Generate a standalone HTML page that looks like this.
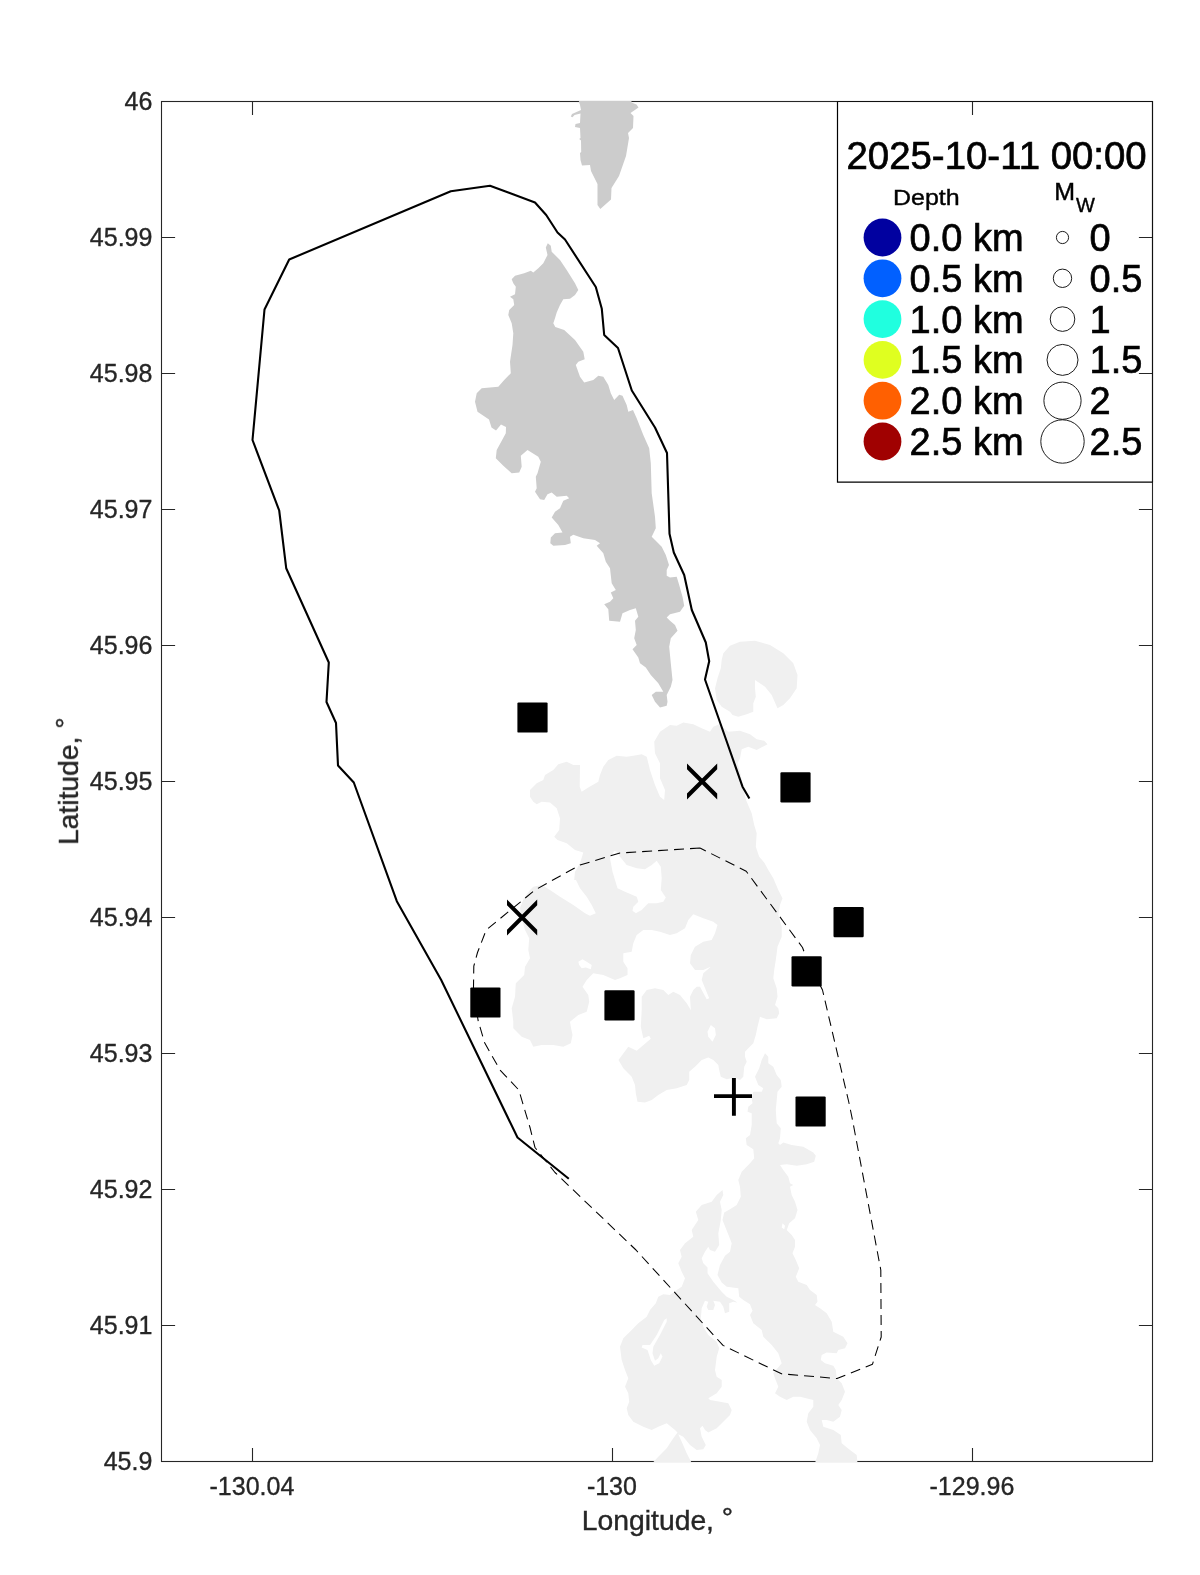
<!DOCTYPE html>
<html><head><meta charset="utf-8"><title>Axial Seamount map</title>
<style>
html,body{margin:0;padding:0;background:#fff;}
body{width:1200px;height:1575px;overflow:hidden;position:relative;font-family:"Liberation Sans",sans-serif;}
svg{position:absolute;left:0;top:0;display:block;}
text{font-family:"Liberation Sans",sans-serif;}
</style></head><body>
<svg width="1200" height="1575" viewBox="0 0 1200 1575">
<rect x="0" y="0" width="1200" height="1575" fill="#ffffff"/>
<defs><clipPath id="axclip"><rect x="161" y="101" width="992" height="1361"/></clipPath></defs>

<g stroke="#262626" stroke-width="1.1" fill="none" shape-rendering="auto">
<rect x="161.5" y="101.5" width="991.0" height="1360.0"/>
<path d="M252.5,1461.5 V1447.9 M252.5,101.5 V115.1"/>
<path d="M612.5,1461.5 V1447.9 M612.5,101.5 V115.1"/>
<path d="M972.5,1461.5 V1447.9 M972.5,101.5 V115.1"/>
<path d="M161.5,237.5 H175.1 M1152.5,237.5 H1138.9"/>
<path d="M161.5,373.5 H175.1 M1152.5,373.5 H1138.9"/>
<path d="M161.5,509.5 H175.1 M1152.5,509.5 H1138.9"/>
<path d="M161.5,645.5 H175.1 M1152.5,645.5 H1138.9"/>
<path d="M161.5,781.5 H175.1 M1152.5,781.5 H1138.9"/>
<path d="M161.5,917.5 H175.1 M1152.5,917.5 H1138.9"/>
<path d="M161.5,1053.5 H175.1 M1152.5,1053.5 H1138.9"/>
<path d="M161.5,1189.5 H175.1 M1152.5,1189.5 H1138.9"/>
<path d="M161.5,1325.5 H175.1 M1152.5,1325.5 H1138.9"/>
</g>
<g clip-path="url(#axclip)">
<path d="M578.5,100.0 L580.0,105.0 L581.0,110.0 L572.0,114.0 L570.8,116.5 L572.5,117.2 L574.5,115.0 L580.5,113.5 L580.0,123.0 L575.5,124.0 L575.0,127.0 L580.0,128.0 L580.5,138.0 L579.2,139.0 L581.0,140.5 L581.2,152.0 L580.0,153.0 L580.5,160.0 L582.0,165.5 L590.0,165.0 L591.0,171.0 L597.5,184.0 L597.5,205.0 L600.3,209.0 L611.0,199.5 L611.5,188.0 L619.0,176.0 L626.0,156.0 L629.0,138.0 L628.0,133.0 L633.0,128.0 L633.5,116.0 L630.5,113.0 L638.5,107.5 L636.5,104.5 L631.5,102.5 L631.5,100.0 Z" fill="#cccccc"/>
<path d="M547.8,243.3 L545.8,247.5 L547.5,255.0 L543.3,263.3 L538.3,268.3 L533.3,272.5 L530.8,270.8 L524.2,273.3 L515.0,275.8 L511.7,279.2 L513.3,283.3 L515.8,286.7 L515.0,294.2 L510.0,296.7 L513.3,299.2 L514.2,305.0 L509.2,310.0 L508.3,315.0 L511.7,323.3 L513.3,333.3 L512.5,345.0 L510.0,361.7 L510.8,373.3 L504.2,380.0 L498.3,386.7 L481.7,388.3 L476.7,393.3 L475.0,401.7 L477.5,411.7 L489.0,419.5 L491.5,427.5 L496.0,430.5 L501.0,424.5 L506.0,427.0 L505.8,433.3 L500.8,442.5 L496.7,450.0 L495.8,458.3 L503.3,465.8 L511.7,473.3 L519.2,472.5 L521.7,466.7 L520.8,455.8 L527.5,450.0 L538.3,456.7 L540.8,461.7 L537.5,473.3 L535.8,476.7 L536.7,488.3 L535.0,491.7 L540.0,499.2 L544.2,500.0 L547.5,494.2 L551.7,492.5 L556.7,496.7 L566.7,495.8 L569.2,498.3 L563.3,500.8 L560.0,508.3 L555.0,511.7 L551.7,517.5 L558.3,525.0 L562.5,532.5 L555.0,533.3 L550.8,537.5 L550.3,543.3 L553.3,545.8 L565.0,545.0 L570.8,543.3 L570.0,536.7 L573.3,534.7 L583.3,538.3 L595.0,540.0 L600.0,543.3 L596.7,545.8 L603.3,553.3 L605.8,561.7 L610.0,568.3 L611.7,583.3 L615.8,590.0 L610.8,592.5 L613.3,598.3 L610.0,601.7 L604.2,604.2 L608.3,609.2 L609.2,620.8 L620.0,621.7 L622.5,613.3 L630.0,610.0 L635.8,608.3 L638.3,616.7 L635.0,620.8 L635.8,630.0 L634.2,638.3 L636.7,645.0 L632.5,649.2 L638.3,657.5 L640.0,663.3 L645.8,667.5 L650.8,675.0 L658.3,683.3 L663.3,691.7 L655.8,691.7 L651.7,695.0 L655.0,701.7 L660.0,707.5 L666.7,705.8 L667.5,701.7 L666.7,695.0 L670.8,686.7 L672.5,680.0 L670.8,663.3 L669.2,646.7 L670.8,638.3 L677.5,630.8 L675.0,625.0 L670.0,620.8 L666.7,617.5 L670.0,614.2 L680.0,611.7 L684.2,605.8 L682.5,596.7 L679.2,585.0 L676.7,576.7 L670.0,577.5 L666.7,575.8 L666.7,570.0 L669.0,565.0 L665.8,555.0 L661.7,546.7 L655.0,540.0 L651.7,536.7 L655.8,528.3 L655.0,516.7 L651.7,493.3 L650.8,463.3 L649.2,448.3 L643.3,435.0 L636.7,418.3 L633.0,410.0 L628.3,411.7 L626.7,405.0 L622.5,395.8 L619.2,394.7 L614.2,400.0 L610.8,393.3 L608.3,385.0 L603.3,376.7 L598.3,375.8 L593.3,380.0 L584.2,382.5 L580.0,376.7 L575.8,365.0 L578.3,361.7 L584.7,359.2 L583.3,351.7 L575.0,340.0 L564.2,330.0 L555.3,327.0 L553.3,323.3 L555.0,318.3 L556.7,312.5 L560.0,305.0 L563.3,299.2 L570.0,298.7 L575.0,295.0 L578.3,290.0 L575.0,283.3 L566.7,270.0 L560.0,260.0 L551.7,251.7 L550.8,245.8 Z" fill="#cccccc"/>
<path d="M723.3,653.3 L730.0,645.8 L740.0,641.7 L755.0,640.8 L770.0,645.0 L783.3,653.3 L793.3,663.3 L797.5,675.0 L796.7,688.3 L790.0,698.3 L783.3,705.0 L777.5,708.3 L771.7,695.0 L765.0,686.7 L755.0,680.0 L755.0,688.3 L755.8,696.7 L753.3,703.3 L753.3,711.7 L746.7,714.2 L738.3,716.7 L732.5,715.0 L730.0,711.7 L721.7,706.7 L716.7,700.0 L715.0,688.3 L717.5,678.3 L720.8,668.3 L721.7,660.0 Z M670.0,725.0 L676.7,725.8 L683.3,722.5 L693.3,724.2 L701.7,728.3 L710.0,731.7 L713.3,726.7 L719.2,724.2 L728.3,731.7 L740.0,730.8 L750.0,734.2 L756.7,739.2 L764.2,740.8 L767.5,744.2 L756.7,750.0 L748.3,746.7 L741.7,749.2 L740.0,758.3 L737.5,763.3 L740.0,771.7 L743.3,788.3 L746.0,800.0 L751.7,813.3 L754.2,825.0 L756.7,833.3 L755.8,846.7 L759.2,856.7 L764.2,862.5 L768.3,870.0 L773.3,878.3 L778.3,890.0 L782.5,898.3 L780.0,905.0 L778.3,915.0 L781.7,926.7 L781.7,936.7 L777.5,946.7 L775.8,960.0 L774.2,970.0 L773.3,978.3 L776.7,988.3 L777.5,996.7 L775.0,1005.0 L778.3,1008.3 L779.2,1013.3 L776.7,1018.3 L766.7,1019.2 L760.0,1016.7 L757.5,1026.7 L755.8,1035.0 L753.3,1043.3 L748.3,1048.3 L745.0,1051.7 L745.0,1056.7 L746.7,1061.7 L744.2,1066.7 L743.3,1076.7 L740.0,1080.0 L735.0,1077.5 L726.7,1079.2 L720.8,1076.7 L719.2,1070.0 L718.3,1065.0 L713.3,1060.0 L708.3,1057.5 L701.7,1060.0 L695.0,1066.7 L689.2,1071.7 L689.2,1080.0 L686.7,1085.0 L676.7,1088.3 L666.7,1090.0 L658.3,1095.0 L651.7,1100.0 L645.0,1102.5 L637.5,1101.7 L635.8,1093.3 L635.0,1085.0 L631.7,1076.7 L623.3,1068.3 L618.5,1060.0 L628.3,1046.7 L636.7,1050.8 L650.8,1038.8 L649.2,1035.8 L643.3,1038.3 L640.8,1026.7 L641.7,1010.0 L641.7,996.7 L646.7,990.0 L655.0,988.3 L663.3,990.0 L668.3,995.0 L673.3,991.7 L680.0,995.0 L686.7,1003.3 L690.8,1010.0 L690.0,996.7 L693.3,990.0 L696.7,986.7 L700.0,986.7 L706.7,999.2 L709.2,998.3 L701.7,980.0 L703.3,973.3 L710.8,966.7 L703.3,970.0 L695.0,970.0 L690.0,963.3 L690.8,955.0 L695.0,946.7 L703.3,941.7 L711.7,940.0 L715.0,933.3 L717.5,925.0 L713.3,921.7 L703.3,918.3 L693.3,914.2 L688.3,920.0 L685.0,928.3 L676.7,933.3 L670.0,935.0 L660.0,931.7 L651.7,930.0 L643.3,930.0 L636.7,935.0 L633.3,943.3 L631.7,951.7 L623.3,953.3 L623.3,961.7 L627.5,968.3 L627.5,975.0 L620.0,978.3 L615.0,980.0 L603.3,975.0 L593.3,973.3 L586.7,980.0 L582.5,986.7 L588.3,995.0 L589.2,1001.7 L586.7,1011.7 L578.3,1015.0 L570.0,1021.7 L570.8,1026.7 L572.5,1035.0 L570.8,1043.3 L563.3,1046.7 L553.3,1045.0 L541.7,1045.0 L533.3,1046.7 L530.0,1040.0 L521.7,1036.7 L513.3,1028.3 L513.3,1021.7 L511.7,1008.3 L515.0,996.7 L515.8,983.3 L524.2,975.0 L525.0,966.7 L530.0,958.3 L528.3,950.0 L529.2,938.3 L525.0,930.0 L521.7,918.3 L520.0,908.0 L524.0,898.0 L530.0,890.0 L533.3,886.7 L541.7,885.0 L550.0,890.0 L560.0,896.7 L573.3,905.0 L585.0,913.3 L590.0,915.8 L595.8,913.3 L591.7,905.0 L586.7,896.7 L580.0,888.3 L576.0,880.0 L574.2,880.0 L575.0,871.7 L580.0,863.3 L583.3,852.5 L575.0,850.0 L566.7,843.3 L557.5,840.0 L554.2,836.7 L559.2,830.0 L560.0,818.3 L556.7,808.3 L550.0,802.5 L541.7,801.7 L536.7,804.2 L533.3,801.7 L530.0,796.7 L530.0,790.0 L536.7,783.3 L543.3,780.0 L545.0,775.0 L553.3,770.0 L558.3,764.2 L566.7,761.7 L573.3,765.0 L580.0,765.0 L579.7,786.7 L581.7,791.7 L588.3,787.5 L598.3,781.7 L600.0,775.0 L603.3,766.7 L608.3,760.0 L616.7,755.8 L626.7,756.7 L633.3,755.8 L641.7,754.2 L646.7,756.7 L650.0,770.0 L655.0,785.0 L660.0,796.7 L664.2,800.0 L665.0,790.0 L660.0,778.3 L660.0,763.3 L655.0,753.3 L654.2,741.7 L660.0,731.7 Z M765.0,1053.3 L768.3,1056.7 L768.3,1063.3 L773.3,1066.7 L776.7,1075.0 L780.8,1080.0 L781.7,1086.7 L777.5,1091.7 L775.8,1110.0 L776.7,1123.3 L780.8,1128.3 L780.0,1138.3 L778.3,1143.3 L780.0,1145.0 L783.3,1142.5 L791.7,1145.0 L803.3,1146.7 L813.3,1152.5 L815.8,1155.8 L814.2,1161.7 L806.7,1164.2 L796.7,1165.8 L786.7,1164.2 L780.0,1165.0 L783.3,1170.0 L788.3,1176.7 L790.0,1183.3 L793.3,1185.0 L790.0,1186.7 L791.7,1195.0 L795.0,1201.7 L797.5,1210.0 L795.0,1218.3 L789.2,1223.3 L786.7,1230.0 L791.7,1235.0 L795.0,1240.0 L795.0,1246.7 L792.5,1253.3 L795.8,1260.0 L799.2,1268.3 L795.8,1276.7 L798.3,1281.7 L806.7,1285.0 L810.0,1290.0 L816.7,1295.0 L817.5,1301.7 L815.0,1305.0 L820.0,1308.3 L826.7,1313.3 L831.7,1321.7 L833.3,1331.7 L843.3,1336.7 L847.5,1343.3 L845.0,1348.3 L838.3,1350.0 L836.7,1353.3 L826.7,1352.5 L821.7,1355.0 L820.8,1360.0 L825.0,1363.3 L833.3,1365.8 L835.8,1370.0 L836.7,1378.3 L841.7,1383.3 L845.0,1391.7 L841.7,1400.0 L838.3,1405.0 L841.7,1410.0 L840.0,1416.7 L833.3,1421.7 L826.7,1420.0 L821.7,1420.0 L823.3,1426.7 L833.3,1430.0 L840.8,1435.0 L841.7,1443.3 L850.0,1450.0 L856.7,1455.0 L857.5,1463.0 L815.0,1463.0 L818.3,1453.3 L820.0,1445.0 L816.7,1438.3 L810.0,1430.0 L806.7,1421.7 L808.3,1413.3 L813.3,1406.7 L813.3,1400.0 L800.0,1396.7 L793.3,1396.7 L786.7,1400.0 L780.0,1396.7 L775.0,1393.3 L778.3,1386.7 L775.0,1378.3 L773.3,1373.3 L781.7,1363.3 L778.3,1353.3 L771.7,1345.0 L763.3,1336.7 L761.7,1330.0 L753.3,1323.3 L750.0,1315.0 L752.5,1310.8 L750.0,1304.2 L743.3,1300.0 L739.2,1296.7 L738.3,1288.3 L726.7,1286.7 L721.7,1282.5 L717.5,1275.0 L720.0,1265.0 L725.0,1255.8 L730.0,1251.7 L731.7,1243.3 L729.2,1236.7 L725.8,1228.3 L722.5,1220.0 L724.2,1212.5 L730.0,1209.2 L736.7,1205.0 L740.8,1196.7 L740.0,1186.7 L738.3,1180.0 L741.7,1171.7 L750.0,1163.3 L754.2,1158.3 L753.3,1149.2 L746.7,1145.0 L745.8,1138.3 L750.0,1135.0 L751.7,1125.0 L751.7,1113.3 L747.5,1111.7 L748.3,1106.7 L752.5,1103.3 L751.7,1098.3 L753.3,1091.7 L761.7,1091.7 L763.3,1088.3 L758.3,1085.0 L755.0,1076.7 L759.2,1068.3 L761.7,1060.0 Z M722.5,1190.0 L723.3,1195.0 L720.0,1201.7 L721.7,1210.0 L720.8,1220.0 L718.3,1233.3 L719.2,1245.0 L715.0,1251.7 L710.0,1250.0 L708.3,1246.7 L705.0,1251.7 L701.7,1258.3 L703.3,1263.3 L707.5,1267.5 L707.5,1273.3 L713.3,1281.7 L721.7,1291.7 L726.7,1296.7 L733.3,1300.0 L737.5,1302.5 L733.3,1301.7 L729.2,1303.3 L729.2,1311.7 L725.0,1313.3 L723.3,1306.7 L720.0,1301.7 L713.3,1300.8 L715.0,1305.0 L713.3,1310.0 L708.3,1310.0 L706.7,1306.7 L708.3,1301.7 L705.0,1300.8 L701.7,1308.3 L700.8,1318.3 L703.3,1326.7 L708.3,1335.0 L716.7,1341.7 L719.2,1348.3 L716.7,1356.7 L715.0,1370.0 L716.7,1376.7 L721.7,1380.0 L721.7,1386.7 L716.7,1393.3 L708.3,1398.3 L710.0,1400.0 L720.0,1401.7 L728.3,1403.3 L731.7,1410.0 L730.0,1415.0 L723.3,1421.7 L716.7,1428.3 L708.3,1432.5 L705.0,1430.0 L702.5,1425.8 L700.0,1428.3 L701.7,1436.7 L705.8,1445.0 L703.3,1449.2 L696.7,1450.0 L690.0,1445.0 L683.3,1436.7 L678.3,1434.2 L681.7,1441.7 L686.7,1453.3 L691.7,1463.0 L652.5,1463.0 L658.3,1456.7 L666.7,1448.3 L673.3,1438.3 L677.5,1432.5 L675.0,1430.0 L666.7,1423.3 L658.3,1426.7 L651.7,1430.0 L643.3,1426.7 L633.3,1421.7 L628.3,1415.0 L626.7,1408.3 L629.2,1401.7 L628.3,1393.3 L625.0,1386.7 L628.3,1378.3 L625.0,1370.0 L621.7,1360.0 L620.0,1346.7 L623.3,1338.3 L631.7,1330.0 L638.3,1323.3 L646.7,1316.7 L650.0,1310.0 L655.8,1303.3 L658.3,1296.7 L663.3,1294.2 L670.0,1295.0 L676.7,1290.0 L681.7,1286.7 L685.0,1278.3 L681.7,1271.7 L678.3,1263.3 L681.7,1256.7 L680.0,1250.0 L685.0,1243.3 L693.3,1236.7 L691.7,1230.0 L698.3,1220.0 L695.8,1211.7 L701.7,1205.0 L711.7,1201.7 L716.7,1195.0 Z" fill="#f0f0f0" fill-rule="evenodd"/>
<path d="M614.2,850.8 L610.0,858.3 L612.5,871.7 L617.5,888.3 L625.0,891.7 L636.7,896.7 L638.3,901.7 L633.3,906.7 L632.5,910.8 L635.8,913.3 L641.7,910.0 L648.3,903.3 L656.7,903.3 L663.3,901.7 L665.8,897.5 L660.8,890.0 L661.7,878.3 L660.8,866.7 L656.7,860.8 L651.7,865.0 L645.0,869.2 L636.7,868.3 L626.7,865.0 L620.0,856.7 L616.7,851.7 Z" fill="#ffffff"/>
<path d="M578.3,961.7 L582.5,959.2 L586.7,961.7 L591.7,965.0 L590.8,969.2 L585.8,967.5 L581.7,968.3 L579.2,965.0 Z" fill="#ffffff"/>
<path d="M710.8,1025.0 L715.0,1028.3 L715.8,1035.0 L712.5,1041.7 L708.3,1036.7 L707.5,1031.7 Z" fill="#ffffff"/>
<path d="M782.5,1223.3 L785.0,1225.8 L784.2,1229.2 L781.7,1227.5 Z" fill="#ffffff"/>
<path d="M666.7,1318.3 L664.2,1320.0 L656.7,1335.0 L650.0,1345.0 L642.5,1345.0 L641.7,1347.5 L647.5,1350.0 L650.8,1360.0 L654.2,1365.8 L659.2,1363.3 L662.5,1356.7 L660.8,1353.3 L658.3,1358.3 L655.0,1360.8 L652.5,1353.3 L653.3,1346.7 L660.0,1335.0 L666.7,1321.7 Z" fill="#ffffff"/>
</g>
<path d="M568.8,1178.8 L517.5,1137.5 L441.2,980.0 L396.8,901.2 L353.8,782.5 L338.0,765.5 L336.0,723.0 L326.5,702.0 L328.8,662.5 L286.2,568.2 L279.2,510.5 L252.5,440.0 L264.5,309.5 L289.2,259.5 L450.8,191.2 L490.0,185.8 L535.0,202.5 L546.2,215.0 L557.5,232.5 L565.0,239.5 L595.8,287.0 L601.8,308.8 L604.2,335.0 L618.0,348.0 L631.8,390.5 L655.0,427.5 L667.0,453.0 L669.5,533.8 L673.8,552.5 L684.2,575.0 L691.8,610.0 L705.8,642.5 L709.2,661.2 L705.0,679.5 L726.2,740.0 L742.5,786.7 L749.4,798.5" fill="none" stroke="#000" stroke-width="2.1" stroke-linejoin="round" stroke-linecap="butt"/>
<path d="M700.0,848.0 L620.0,853.0 L580.0,865.0 L535.0,890.0 L486.2,930.0 L477.5,952.5 L473.8,966.2 L473.5,987.5 L478.0,1020.0 L484.5,1042.5 L500.0,1070.0 L518.8,1090.0 L530.0,1127.5 L535.0,1147.5 L555.0,1172.5 L636.0,1250.0 L723.0,1345.4 L781.5,1373.8 L837.0,1378.5 L872.5,1364.2 L881.2,1337.0 L880.8,1270.0 L852.5,1120.0 L849.0,1103.0 L822.5,990.0 L806.0,957.0 L802.5,947.5 L746.2,871.2 L700.0,848.0" fill="none" stroke="#000" stroke-width="1.05" stroke-dasharray="10 6" stroke-linejoin="round"/>
<rect x="517.4" y="702.4" width="30.2" height="30.2" rx="1.2" ry="1.2" fill="#000"/>
<rect x="780.4" y="772.3" width="30.2" height="30.2" rx="1.2" ry="1.2" fill="#000"/>
<rect x="833.5" y="907.1" width="30.2" height="30.2" rx="1.2" ry="1.2" fill="#000"/>
<rect x="791.5" y="956.3" width="30.2" height="30.2" rx="1.2" ry="1.2" fill="#000"/>
<rect x="470.3" y="987.4" width="30.2" height="30.2" rx="1.2" ry="1.2" fill="#000"/>
<rect x="604.4" y="990.3" width="30.2" height="30.2" rx="1.2" ry="1.2" fill="#000"/>
<rect x="795.5" y="1096.4" width="30.2" height="30.2" rx="1.2" ry="1.2" fill="#000"/>
<path d="M687.0,763.4 L687.0,769.2 L717.2,799.4 L717.2,793.6 Z M687.0,793.6 L687.0,799.4 L717.2,769.2 L717.2,763.4 Z" fill="#000"/>
<path d="M507.0,899.5 L507.0,905.3 L537.2,935.5 L537.2,929.7 Z M507.0,929.7 L507.0,935.5 L537.2,905.3 L537.2,899.5 Z" fill="#000"/>
<path d="M714,1096.15 H752 M733.9,1078 V1115.8" stroke="#000" stroke-width="3.9" fill="none"/>
<path d="M837.5,101.5 V482.2 H1152.5" fill="none" stroke="#000" stroke-width="1.2"/>
<path d="M837.5,101.5 H1152.5 V482.2" fill="none" stroke="#111" stroke-width="1.1"/>
<g opacity="0.999">
<circle cx="882.5" cy="237.5" r="18.9" fill="#0000a0"/>
<circle cx="1062.5" cy="237.5" r="6.10" fill="none" stroke="#000" stroke-width="0.9"/>
<text x="909.5" y="250.9" font-size="38" fill="#000" stroke="#000" stroke-width="0.7">0.0 km</text>
<text x="1089.5" y="250.9" font-size="38" fill="#000" stroke="#000" stroke-width="0.7">0</text>
<circle cx="882.5" cy="278.3" r="18.9" fill="#0060ff"/>
<circle cx="1062.5" cy="278.3" r="9.20" fill="none" stroke="#000" stroke-width="0.9"/>
<text x="909.5" y="291.7" font-size="38" fill="#000" stroke="#000" stroke-width="0.7">0.5 km</text>
<text x="1089.5" y="291.7" font-size="38" fill="#000" stroke="#000" stroke-width="0.7">0.5</text>
<circle cx="882.5" cy="319.1" r="18.9" fill="#20ffdf"/>
<circle cx="1062.5" cy="319.1" r="12.30" fill="none" stroke="#000" stroke-width="0.9"/>
<text x="909.5" y="332.5" font-size="38" fill="#000" stroke="#000" stroke-width="0.7">1.0 km</text>
<text x="1089.5" y="332.5" font-size="38" fill="#000" stroke="#000" stroke-width="0.7">1</text>
<circle cx="882.5" cy="359.9" r="18.9" fill="#dfff20"/>
<circle cx="1062.5" cy="359.9" r="15.50" fill="none" stroke="#000" stroke-width="0.9"/>
<text x="909.5" y="373.3" font-size="38" fill="#000" stroke="#000" stroke-width="0.7">1.5 km</text>
<text x="1089.5" y="373.3" font-size="38" fill="#000" stroke="#000" stroke-width="0.7">1.5</text>
<circle cx="882.5" cy="400.7" r="18.9" fill="#ff6000"/>
<circle cx="1062.5" cy="400.7" r="18.60" fill="none" stroke="#000" stroke-width="0.9"/>
<text x="909.5" y="414.1" font-size="38" fill="#000" stroke="#000" stroke-width="0.7">2.0 km</text>
<text x="1089.5" y="414.1" font-size="38" fill="#000" stroke="#000" stroke-width="0.7">2</text>
<circle cx="882.5" cy="441.5" r="18.9" fill="#a00000"/>
<circle cx="1062.5" cy="441.5" r="21.70" fill="none" stroke="#000" stroke-width="0.9"/>
<text x="909.5" y="454.9" font-size="38" fill="#000" stroke="#000" stroke-width="0.7">2.5 km</text>
<text x="1089.5" y="454.9" font-size="38" fill="#000" stroke="#000" stroke-width="0.7">2.5</text>
<text x="996.6" y="169.0" font-size="38.4" fill="#000" stroke="#000" stroke-width="0.7" text-anchor="middle">2025-10-11 00:00</text>
<text transform="translate(926.3,204.7) scale(1,0.9)" font-size="25" fill="#000" stroke="#000" stroke-width="0.45" text-anchor="middle">Depth</text>
<text transform="translate(1054.3,199.5) scale(1,0.93)" font-size="25" fill="#000" stroke="#000" stroke-width="0.45">M</text>
<text x="1075.9" y="211.6" font-size="20" fill="#000" stroke="#000" stroke-width="0.4">W</text>
<text x="152.4" y="110.4" font-size="25" fill="#262626" stroke="#262626" stroke-width="0.35" text-anchor="end">46</text>
<text x="152.4" y="246.4" font-size="25" fill="#262626" stroke="#262626" stroke-width="0.35" text-anchor="end">45.99</text>
<text x="152.4" y="382.4" font-size="25" fill="#262626" stroke="#262626" stroke-width="0.35" text-anchor="end">45.98</text>
<text x="152.4" y="518.4" font-size="25" fill="#262626" stroke="#262626" stroke-width="0.35" text-anchor="end">45.97</text>
<text x="152.4" y="654.4" font-size="25" fill="#262626" stroke="#262626" stroke-width="0.35" text-anchor="end">45.96</text>
<text x="152.4" y="790.4" font-size="25" fill="#262626" stroke="#262626" stroke-width="0.35" text-anchor="end">45.95</text>
<text x="152.4" y="926.4" font-size="25" fill="#262626" stroke="#262626" stroke-width="0.35" text-anchor="end">45.94</text>
<text x="152.4" y="1062.4" font-size="25" fill="#262626" stroke="#262626" stroke-width="0.35" text-anchor="end">45.93</text>
<text x="152.4" y="1198.4" font-size="25" fill="#262626" stroke="#262626" stroke-width="0.35" text-anchor="end">45.92</text>
<text x="152.4" y="1334.4" font-size="25" fill="#262626" stroke="#262626" stroke-width="0.35" text-anchor="end">45.91</text>
<text x="152.4" y="1470.4" font-size="25" fill="#262626" stroke="#262626" stroke-width="0.35" text-anchor="end">45.9</text>
<text x="251.9" y="1495.2" font-size="25" fill="#262626" stroke="#262626" stroke-width="0.35" text-anchor="middle">-130.04</text>
<text x="611.9" y="1495.2" font-size="25" fill="#262626" stroke="#262626" stroke-width="0.35" text-anchor="middle">-130</text>
<text x="971.9" y="1495.2" font-size="25" fill="#262626" stroke="#262626" stroke-width="0.35" text-anchor="middle">-129.96</text>
<text x="657.5" y="1529.9" font-size="28.3" fill="#262626" stroke="#262626" stroke-width="0.4" text-anchor="middle">Longitude, <tspan dy="-3">°</tspan></text>
<text transform="translate(78.0,781.2) rotate(-90)" font-size="28.3" fill="#262626" stroke="#262626" stroke-width="0.4" text-anchor="middle">Latitude, <tspan dy="-2.8">°</tspan></text>
</g>
</svg></body></html>
